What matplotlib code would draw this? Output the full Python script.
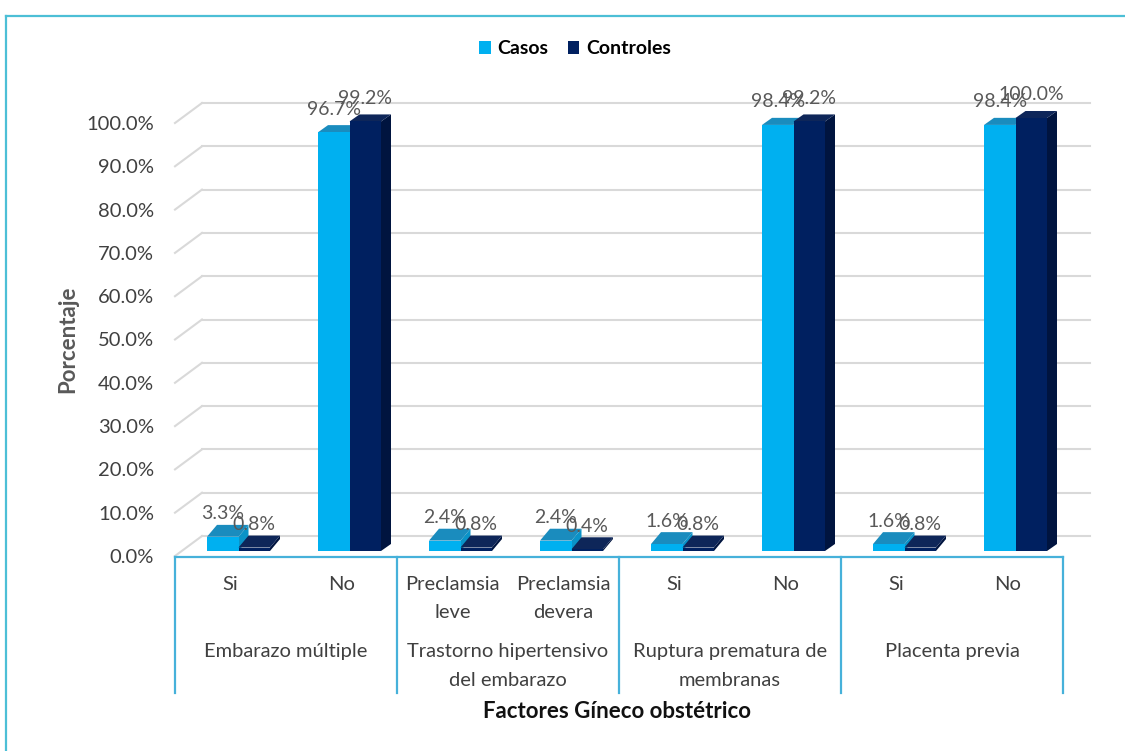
import matplotlib
matplotlib.use("Agg")
import matplotlib.pyplot as plt
from matplotlib.transforms import blended_transform_factory
from matplotlib.patches import Polygon, Patch
from matplotlib.lines import Line2D
import numpy as np

# ---------------- data ----------------
sub_labels = ["Si", "No", "Preclamsia\nleve", "Preclamsia\ndevera", "Si", "No", "Si", "No"]
group_labels = ["Embarazo múltiple", "Trastorno hipertensivo\ndel embarazo",
                "Ruptura prematura de\nmembranas", "Placenta previa"]
group_sizes = [2, 2, 2, 2]
casos = [3.3, 96.7, 2.4, 2.4, 1.6, 98.4, 1.6, 98.4]
controles = [0.8, 99.2, 0.8, 0.4, 0.8, 99.2, 0.8, 100.0]
series_names = ["Casos", "Controles"]
y_ticks = [0, 10, 20, 30, 40, 50, 60, 70, 80, 90, 100]
y_title = "Porcentaje"
x_title = "Factores Gíneco obstétrico"

# ---------------- style ----------------
plt.rcParams["font.family"] = ["Lato", "DejaVu Sans"]
W, H, DPI = 1125, 751, 100
L, R = 175, 1063          # plot front-left / front-right in px
Y0, Y100 = 556, 123        # front plane y for 0 and 100 in px
C_CASOS = {"front": "#00B0F0", "top": "#1A8CBE", "side": "#0A93C8"}
C_CTRL = {"front": "#002060", "top": "#0E2659", "side": "#00143F"}
GRID = "#D9D9D9"
AXIS_BLUE = "#46B1DA"

fig = plt.figure(figsize=(W / DPI, H / DPI), dpi=DPI)
fig.patch.set_facecolor("white")
ax = fig.add_axes([L / W, 1 - Y0 / H, (R - L) / W, (Y0 - Y100) / H])
n = len(sub_labels)
ax.set_xlim(-0.5, n - 0.5)
ax.set_ylim(0, 100)
for s in ax.spines.values():
    s.set_visible(False)
ax.set_xticks([])
ax.set_yticks(y_ticks)
ax.set_yticklabels([f"{v:.1f}%" for v in y_ticks])
ax.tick_params(axis="y", length=0, pad=15, labelsize=14.5, labelcolor="#404040")
ax.patch.set_alpha(0)

ux = (R - L) / n          # px per x unit
uy = (Y0 - Y100) / 100.0  # px per y unit


def ay(py):
    """figure pixel row -> axes fraction"""
    return (Y0 - py) / (Y0 - Y100)


# ---------------- back wall gridlines + side wall diagonals ----------------
bdx, bdy = 27 / ux, 20 / uy
for v in y_ticks:
    ax.plot([-0.5 + bdx, n - 0.5 + bdx], [v + bdy, v + bdy], color=GRID, lw=1.5,
            clip_on=False, zorder=1)
    ax.plot([-0.5, -0.5 + bdx], [v, v + bdy], color=GRID, lw=1.5, clip_on=False, zorder=1)

# ---------------- 3D bars ----------------
x = np.arange(n)
w = 31.5 / ux
pbx, pby = 8 / ux, 5 / uy           # bar plane shift
ddx = 10 / ux


def draw_series(centers, vals, colors, z):
    ax.bar(centers, vals, width=w, bottom=pby, color=colors["front"], zorder=z + 0.2,
           clip_on=False, linewidth=0)
    for c, v in zip(centers, vals):
        ddy = (12 - 5 * v / 100) / uy
        l, r, t = c - w / 2, c + w / 2, pby + v
        side = Polygon([(r, pby), (r, t), (r + ddx, t + ddy), (r + ddx, pby + ddy)],
                       closed=True, facecolor=colors["side"], edgecolor="none",
                       zorder=z, clip_on=False)
        top = Polygon([(l, t), (r, t), (r + ddx, t + ddy), (l + ddx, t + ddy)],
                      closed=True, facecolor=colors["top"], edgecolor="none",
                      zorder=z + 0.1, clip_on=False)
        ax.add_patch(side)
        ax.add_patch(top)
        ax.annotate(f"{v:.1f}%", xy=(c, t), xytext=(0, 23), textcoords="offset pixels",
                    ha="center", va="center", fontsize=14, color="#595959",
                    zorder=10, annotation_clip=False)


draw_series(x - w / 2 + pbx, casos, C_CASOS, 3)
draw_series(x + w / 2 + pbx, controles, C_CTRL, 4)

# ---------------- category axis ----------------
bt = blended_transform_factory(ax.transData, ax.transAxes)
ax.plot([-0.5, n - 0.5], [ay(557), ay(557)], color=AXIS_BLUE, lw=1.6, transform=bt,
        clip_on=False, zorder=6)
edges = np.concatenate([[0], np.cumsum(group_sizes)]) - 0.5
for e in edges:
    ax.plot([e, e], [ay(557), ay(693)], color=AXIS_BLUE, lw=1.6, transform=bt,
            clip_on=False, zorder=6)

for i, lab in enumerate(sub_labels):
    for k, line in enumerate(lab.split("\n")):
        ax.text(i, ay(585 + 27 * k), line, transform=bt, ha="center", va="center",
                fontsize=14.5, color="#404040")

for g, lab in enumerate(group_labels):
    gc = (edges[g] + edges[g + 1]) / 2
    for k, line in enumerate(lab.split("\n")):
        ax.text(gc, ay(652 + 28 * k), line, transform=bt, ha="center", va="center",
                fontsize=14.5, color="#404040")

# ---------------- titles ----------------
fig.text(68 / W, 1 - 339 / H, y_title, rotation=90, ha="center", va="center",
         fontsize=16, fontweight="bold", color="#595959")
fig.text(617 / W, 1 - 712 / H, x_title, ha="center", va="center",
         fontsize=16, fontweight="bold", color="#111111")

# ---------------- legend ----------------
handles = [Patch(facecolor=C_CASOS["front"]), Patch(facecolor=C_CTRL["front"])]
fig.legend(handles, series_names, loc="center", bbox_to_anchor=(575 / W, 1 - 49 / H),
           ncol=2, frameon=False, prop={"weight": "bold", "size": 14},
           handlelength=0.6, handleheight=0.6, handletextpad=0.35, columnspacing=1.0)

# ---------------- outer border ----------------
BORDER = "#4CBFD6"
fig.add_artist(Line2D([6 / W, 1], [1 - 16 / H, 1 - 16 / H], color=BORDER, lw=1.6,
                      transform=fig.transFigure))
fig.add_artist(Line2D([6 / W, 6 / W], [1 - 16 / H, 0], color=BORDER, lw=1.6,
                      transform=fig.transFigure))

fig.savefig("out.png", dpi=DPI, facecolor="white")
